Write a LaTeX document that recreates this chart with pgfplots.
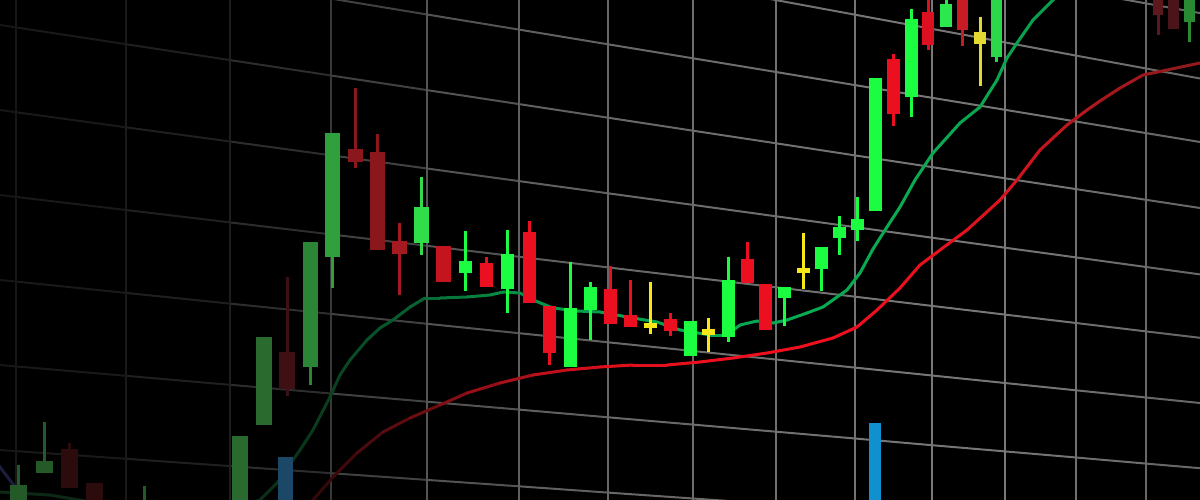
\documentclass[border=0pt]{standalone}
\usepackage{pgfplots}
\pgfplotsset{compat=1.18}
\definecolor{gA}{HTML}{245A28}
\definecolor{rA}{HTML}{2C0B0D}
\definecolor{gB}{HTML}{2A6A2E}
\definecolor{rB}{HTML}{3E1014}
\definecolor{gC}{HTML}{2C8436}
\definecolor{gD}{HTML}{2FA03C}
\definecolor{rC}{HTML}{8A171C}
\definecolor{rD}{HTML}{A51A20}
\definecolor{gE}{HTML}{30DC4A}
\definecolor{rE}{HTML}{C4141E}
\definecolor{gF}{HTML}{1CFC40}
\definecolor{rF}{HTML}{EC0F1F}
\definecolor{yF}{HTML}{F6E61C}
\definecolor{rG}{HTML}{DC1020}
\definecolor{gG}{HTML}{2AE84E}
\definecolor{rH}{HTML}{C81C24}
\definecolor{yG}{HTML}{E4D832}
\definecolor{gH}{HTML}{2CD84A}
\definecolor{rI}{HTML}{5C181C}
\definecolor{rJ}{HTML}{4A1418}
\definecolor{gI}{HTML}{2A8A34}
\definecolor{volA}{HTML}{1C4868}
\definecolor{volB}{HTML}{1090CC}
\definecolor{navyL}{HTML}{1C1C3C}
\pgfplotsset{
  colormap={gridmap}{rgb255=(22,22,22) rgb255=(26,26,26) rgb255=(32,32,32) rgb255=(48,48,48) rgb255=(70,70,70) rgb255=(88,88,88) rgb255=(100,100,100) rgb255=(108,108,108) rgb255=(112,112,112) rgb255=(118,118,118) rgb255=(118,118,118) rgb255=(110,110,110) rgb255=(100,100,100)},
  colormap={greenma}{rgb255=(14,42,22) rgb255=(12,40,20) rgb255=(10,40,20) rgb255=(10,52,26) rgb255=(8,92,46) rgb255=(6,140,68) rgb255=(4,160,78) rgb255=(6,165,80) rgb255=(8,170,82) rgb255=(10,170,82) rgb255=(10,165,80) rgb255=(10,150,72) rgb255=(10,140,70)},
  colormap={redma}{rgb255=(40,6,8) rgb255=(40,6,8) rgb255=(40,6,8) rgb255=(40,6,8) rgb255=(92,12,16) rgb255=(160,16,24) rgb255=(220,16,28) rgb255=(236,16,30) rgb255=(240,16,30) rgb255=(236,16,30) rgb255=(220,20,30) rgb255=(170,24,30) rgb255=(140,26,30)},
}
\begin{document}
\begin{tikzpicture}
\begin{axis}[
  scale only axis, width=1200pt, height=500pt,
  xmin=0, xmax=1200, ymin=0, ymax=500, y dir=reverse,
  axis line style={draw=none}, xtick=\empty, ytick=\empty,
  axis background/.style={fill=black},
  point meta min=0, point meta max=1200,
  unbounded coords=jump,
]
% ---- perspective grid: horizontal lines ----
\addplot[mesh, colormap name=gridmap, point meta=x, line width=2pt] coordinates {(693,-15.3) (776,0.1) (855,14.7) (932,28.9) (1005,42.4) (1076,55.6) (1146,68.5) (1200,78.5)};
\addplot[mesh, colormap name=gridmap, point meta=x, line width=2pt] coordinates {(1100,-4.9) (1146,3.4) (1200,13.1)};
\addplot[mesh, colormap name=gridmap, point meta=x, line width=2pt] coordinates {(300,-6.5) (331,-1.4) (427,14.5) (519,29.6) (608,44.3) (693,58.3) (776,72.0) (855,85.1) (932,97.8) (1005,109.8) (1076,121.5) (1146,133.1) (1200,142)};
\addplot[mesh, colormap name=gridmap, point meta=x, line width=2pt] coordinates {(0,25) (16,27.4) (126,44.2) (230,60.1) (331,75.5) (427,90.1) (519,104.1) (608,117.7) (693,130.7) (776,143.3) (855,155.4) (932,167.1) (1005,178.3) (1076,189.1) (1146,199.8) (1200,208)};
\addplot[mesh, colormap name=gridmap, point meta=x, line width=2pt] coordinates {(0,110) (16,112.2) (126,127.3) (230,141.5) (331,155.3) (427,168.5) (519,181.1) (608,193.3) (693,204.9) (776,216.3) (855,227.1) (932,237.7) (1005,247.7) (1076,257.4) (1146,267) (1200,274.4)};
\addplot[mesh, colormap name=gridmap, point meta=x, line width=2pt] coordinates {(0,195) (16,196.9) (126,210) (230,222.4) (331,234.4) (427,245.8) (519,256.8) (608,267.4) (693,277.5) (776,287.3) (855,296.7) (932,305.9) (1005,314.6) (1076,323) (1146,331.4) (1200,337.8)};
\addplot[mesh, colormap name=gridmap, point meta=x, line width=2pt] coordinates {(0,280) (16,281.6) (126,292.9) (230,303.6) (331,313.9) (427,323.8) (519,333.2) (608,342.3) (693,351) (776,359.5) (855,367.6) (932,375.5) (1005,383) (1076,390.3) (1146,397.5) (1200,403)};
\addplot[mesh, colormap name=gridmap, point meta=x, line width=2pt] coordinates {(0,365) (16,366.4) (126,375.8) (230,384.8) (331,393.5) (427,401.7) (519,409.6) (608,417.3) (693,424.6) (776,431.7) (855,438.5) (932,445.2) (1005,451.4) (1076,457.5) (1146,463.6) (1200,468.2)};
\addplot[mesh, colormap name=gridmap, point meta=x, line width=2pt] coordinates {(0,450) (16,451.1) (126,458.8) (230,466.1) (331,473.2) (427,479.9) (519,486.3) (608,492.6) (693,498.5) (776,504.3)};
% ---- vertical grid lines ----
\addplot[color={rgb,255:red,22;green,22;blue,22}, line width=2pt] coordinates {(16,0) (16,500)};
\addplot[color={rgb,255:red,26;green,26;blue,26}, line width=2pt] coordinates {(126,0) (126,500)};
\addplot[color={rgb,255:red,30;green,30;blue,30}, line width=2pt] coordinates {(230,0) (230,500)};
\addplot[color={rgb,255:red,56;green,56;blue,56}, line width=2pt] coordinates {(331,0) (331,500)};
\addplot[color={rgb,255:red,85;green,85;blue,85}, line width=2pt] coordinates {(427,0) (427,500)};
\addplot[color={rgb,255:red,96;green,96;blue,96}, line width=2pt] coordinates {(519,0) (519,500)};
\addplot[color={rgb,255:red,104;green,104;blue,104}, line width=2pt] coordinates {(608,0) (608,500)};
\addplot[color={rgb,255:red,108;green,108;blue,108}, line width=2pt] coordinates {(693,0) (693,500)};
\addplot[color={rgb,255:red,112;green,112;blue,112}, line width=2pt] coordinates {(776,0) (776,500)};
\addplot[color={rgb,255:red,115;green,115;blue,115}, line width=2pt] coordinates {(855,0) (855,500)};
\addplot[color={rgb,255:red,120;green,120;blue,120}, line width=2pt] coordinates {(932,0) (932,500)};
\addplot[color={rgb,255:red,120;green,120;blue,120}, line width=2pt] coordinates {(1005,0) (1005,500)};
\addplot[color={rgb,255:red,112;green,112;blue,112}, line width=2pt] coordinates {(1076,0) (1076,500)};
\addplot[color={rgb,255:red,104;green,104;blue,104}, line width=2pt] coordinates {(1146,0) (1146,500)};
% ---- moving averages ----
\addplot[color=navyL, line width=3pt] coordinates {(-5,460) (0,467) (25,500) (30,507)};
\addplot[mesh, colormap name=greenma, point meta=x, line width=3pt, line cap=round] coordinates {(0,492) (50,495) (85,501) (150,512) (220,512) (260,500) (277,483) (293,460) (300,450) (313,430) (330,397) (340,375) (350,360) (367,340) (380,328) (393,320) (410,307) (425,298) (440,298) (467,297) (490,295) (503,292) (520,293) (533,300) (553,308) (577,311) (600,312) (633,318) (657,322) (680,330) (710,335) (727,335) (740,325) (757,321) (773,323) (787,320) (807,313) (823,307) (847,290) (860,273) (873,249) (887,227) (900,207) (915,180) (933,153) (960,123) (980,107) (997,80) (1007,58) (1017,43) (1033,20) (1053,0) (1060,-8)};
\addplot[mesh, colormap name=redma, point meta=x, line width=3pt, line cap=round] coordinates {(305,508) (313,500) (333,477) (357,453) (383,432) (410,418) (440,405) (467,393) (500,383) (533,375) (567,370) (600,367) (633,365) (667,365) (700,362) (733,358) (767,353) (800,347) (833,338) (857,327) (877,310) (900,288) (920,265) (940,250) (967,230) (1000,200) (1017,180) (1040,150) (1067,125) (1087,110) (1100,101) (1120,88) (1143,75) (1167,70) (1200,63)};
% ---- volume bars ----
\addplot[color=volA, line width=15pt] coordinates {(285,457) (285,505)};
\addplot[color=volB, line width=12pt] coordinates {(875,423) (875,505)};
% ---- candles: wicks then bodies, grouped by colour ----
\addplot[color=gA, line width=3pt] coordinates {(18,465) (18,505) (nan,nan) (44,422) (44,473) (nan,nan) (144,486) (144,505)};
\addplot[color=gA, line width=17pt] coordinates {(18,485) (18,505) (nan,nan) (44,461) (44,473)};
\addplot[color=rA, line width=3pt] coordinates {(69,443) (69,488)};
\addplot[color=rA, line width=17pt] coordinates {(69,449) (69,488) (nan,nan) (94,483) (94,505)};
\addplot[color=gB, line width=16pt] coordinates {(240,436) (240,505) (nan,nan) (264,337) (264,425)};
\addplot[color=rB, line width=3pt] coordinates {(287,277) (287,396)};
\addplot[color=rB, line width=16pt] coordinates {(287,352) (287,389)};
\addplot[color=gC, line width=3pt] coordinates {(310,242) (310,385)};
\addplot[color=gC, line width=15pt] coordinates {(310,242) (310,367)};
\addplot[color=gD, line width=3pt] coordinates {(332,133) (332,288)};
\addplot[color=gD, line width=15pt] coordinates {(332,133) (332,257)};
\addplot[color=rC, line width=3pt] coordinates {(355,88) (355,168) (nan,nan) (377,134) (377,250)};
\addplot[color=rC, line width=15pt] coordinates {(355,149) (355,162) (nan,nan) (377,152) (377,250)};
\addplot[color=rD, line width=3pt] coordinates {(399,223) (399,295)};
\addplot[color=rD, line width=15pt] coordinates {(399,241) (399,254)};
\addplot[color=gE, line width=3pt] coordinates {(421,177) (421,255)};
\addplot[color=gE, line width=15pt] coordinates {(421,207) (421,243)};
\addplot[color=rE, line width=15pt] coordinates {(443,246) (443,282)};
\addplot[color=gF, line width=3pt] coordinates {(465,231) (465,291) (nan,nan) (507,230) (507,313) (nan,nan) (570,262) (570,367) (nan,nan) (590,282) (590,340) (nan,nan) (690,321) (690,356) (nan,nan) (728,257) (728,342) (nan,nan) (784,287) (784,326) (nan,nan) (821,247) (821,291) (nan,nan) (839,216) (839,255) (nan,nan) (857,197) (857,241) (nan,nan) (911,9) (911,117)};
\addplot[color=gF, line width=13pt] coordinates {(465,261) (465,273) (nan,nan) (507,254) (507,289) (nan,nan) (570,308) (570,367) (nan,nan) (590,287) (590,310) (nan,nan) (690,321) (690,356) (nan,nan) (728,280) (728,337) (nan,nan) (784,287) (784,298) (nan,nan) (821,247) (821,269) (nan,nan) (839,227) (839,238) (nan,nan) (857,219) (857,230) (nan,nan) (875,78) (875,211) (nan,nan) (911,19) (911,97)};
\addplot[color=rF, line width=3pt] coordinates {(486,257) (486,287) (nan,nan) (529,221) (529,303) (nan,nan) (549,306) (549,365) (nan,nan) (610,266) (610,324) (nan,nan) (630,280) (630,327) (nan,nan) (670,313) (670,336) (nan,nan) (747,242) (747,283) (nan,nan) (765,284) (765,330) (nan,nan) (893,54) (893,126)};
\addplot[color=rF, line width=13pt] coordinates {(486,263) (486,287) (nan,nan) (529,232) (529,303) (nan,nan) (549,306) (549,353) (nan,nan) (610,289) (610,324) (nan,nan) (630,315) (630,327) (nan,nan) (670,319) (670,331) (nan,nan) (747,259) (747,283) (nan,nan) (765,284) (765,330) (nan,nan) (893,59) (893,114)};
\addplot[color=yF, line width=3pt] coordinates {(650,282) (650,334) (nan,nan) (708,318) (708,352) (nan,nan) (803,233) (803,289)};
\addplot[color=yF, line width=13pt] coordinates {(650,323) (650,328) (nan,nan) (708,329) (708,335) (nan,nan) (803,268) (803,273)};
\addplot[color=rG, line width=3pt] coordinates {(928,-5) (928,50)};
\addplot[color=rG, line width=12pt] coordinates {(928,12) (928,45)};
\addplot[color=gG, line width=3pt] coordinates {(946,-5) (946,27)};
\addplot[color=gG, line width=12pt] coordinates {(946,4) (946,27)};
\addplot[color=rH, line width=3pt] coordinates {(962,-5) (962,46)};
\addplot[color=rH, line width=11pt] coordinates {(962,-5) (962,30)};
\addplot[color=yG, line width=3pt] coordinates {(980,17) (980,86)};
\addplot[color=yG, line width=12pt] coordinates {(980,32) (980,44)};
\addplot[color=gH, line width=3pt] coordinates {(996,-5) (996,62)};
\addplot[color=gH, line width=11pt] coordinates {(996,-5) (996,57)};
\addplot[color=rI, line width=3pt] coordinates {(1158,-5) (1158,35)};
\addplot[color=rI, line width=10pt] coordinates {(1158,-5) (1158,15)};
\addplot[color=rJ, line width=11pt] coordinates {(1173,-5) (1173,29)};
\addplot[color=gI, line width=3pt] coordinates {(1189,-5) (1189,42)};
\addplot[color=gI, line width=11pt] coordinates {(1189,-5) (1189,22)};
\end{axis}
\end{tikzpicture}
\end{document}
